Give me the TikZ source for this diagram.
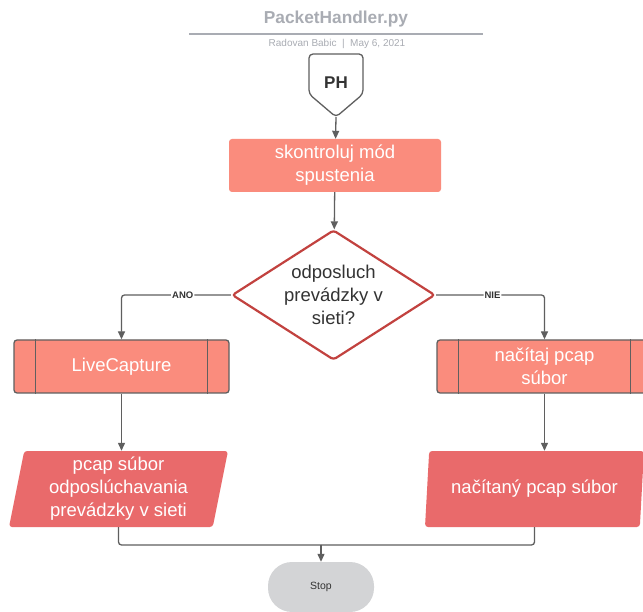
\documentclass[tikz,border=0pt]{standalone}
\usepackage{fontspec}
\setmainfont{Liberation Sans}
\usetikzlibrary{arrows.meta,shapes.geometric,positioning,calc}
\definecolor{salmon}{HTML}{FA8C7D}
\definecolor{darksalmon}{HTML}{E96A6B}
\definecolor{decred}{HTML}{C2423F}
\definecolor{linegray}{HTML}{5F5F5F}
\definecolor{titlegray}{HTML}{A9ACB3}
\definecolor{stopgray}{HTML}{D3D4D6}
\definecolor{textdark}{HTML}{333333}
\tikzstyle{boxfont}=[font=\fontsize{18.5}{23}\selectfont, align=center]
\tikzstyle{process}=[rectangle, rounded corners=3pt, fill=salmon, text=white, boxfont, minimum width=212pt, minimum height=53pt, inner sep=0pt]
\tikzstyle{subproc}=[process, draw=linegray, line width=1.3pt, minimum width=215pt]
\tikzstyle{decision}=[diamond, draw=decred, line width=2.2pt, fill=white, minimum width=203pt, minimum height=130pt, inner sep=0pt, rounded corners=3pt]
\tikzstyle{io}=[trapezium, trapezium left angle=76.5, trapezium right angle=103.5, trapezium stretches body, rounded corners=3pt, fill=darksalmon, text=white, boxfont, minimum width=219pt, minimum height=76pt, inner sep=0pt]
\tikzstyle{terminal}=[rectangle, rounded corners=24pt, fill=stopgray, text=textdark, font=\fontsize{10.5}{12}\selectfont, minimum width=106pt, minimum height=50pt]
\tikzstyle{line}=[draw, line width=1.3pt, linegray, rounded corners=3pt]
\tikzstyle{edge}=[line, -{Triangle[length=8pt,width=7pt]}]
\tikzstyle{answer}=[fill=white, text=textdark, font=\bfseries\fontsize{9.5}{11}\selectfont, inner sep=1pt]

\begin{document}
\begin{tikzpicture}[x=1pt, y=-1pt]
    \clip (0,0) rectangle (643,612);
    \fill[white] (0,0) rectangle (643,612);

    % Header
    \node[text=titlegray, font=\bfseries\fontsize{17.3}{20}\selectfont] (title) at (336,19) {PacketHandler.py};
    \coordinate (ruleL) at (189,34);
    \coordinate (ruleR) at (483,34);
    \draw[titlegray, line width=1.2pt] (ruleL) -- (ruleR);
    \node[text=titlegray, font=\fontsize{10}{12}\selectfont] (author) at (337,44) {Radovan Babic \ |\ \ May 6, 2021};

    % Off-page connector
    \draw[line, fill=white, rounded corners=4pt] (309,54) -- (363,54) -- (363,94) -- (336,117) -- (309,94) -- cycle;
    \coordinate (PHtip) at (336,117);
    \node[text=textdark, font=\bfseries\fontsize{17}{20}\selectfont] (PH) at (336,83) {PH};

    % Then the blocks
    \node[process] (check) at (335,165.5) {skontroluj mód\\spustenia};
    \node[decision, label={[boxfont, text=textdark]center:{odposluch\\prevádzky v\\sieti?}}] (query) at (333.5,295) {};
    \foreach \pos/\name/\txt in {{(121.5,366.5)/live/LiveCapture},{(544.5,366.5)/load/{načítaj pcap\\súbor}}}
        \node[subproc] (\name) at \pos {\txt};
    \foreach \name in {live, load} {
        \draw[linegray, line width=1.3pt] ([xshift=22pt]\name.north west) -- ([xshift=22pt]\name.south west);
        \draw[linegray, line width=1.3pt] ([xshift=-22pt]\name.north east) -- ([xshift=-22pt]\name.south east);
    }
    \node[io] (pcapL) at (118.5,489) {pcap súbor\\odposlúchavania\\prevádzky v sieti};
    \node[io] (pcapR) at (534.5,489) {načítaný pcap súbor};
    \node[terminal] (stop) at (321,587) {Stop};
    \coordinate (merge) at (321,545);

    % Connect blocks
    \path[edge] (PHtip) -- (check);
    \path[edge] (check) -- (query);
    \path[edge] (query.west) -| node[answer, pos=0.22] {ANO} (live.north);
    \path[edge] (query.east) -| node[answer, pos=0.26] {NIE} (load.north);
    \path[edge] (live) -- (live |- pcapL.north);
    \path[edge] (load) -- (load |- pcapR.north);
    \path[line] (pcapL.center |- pcapL.south) |- (merge);
    \path[line] (pcapR.center |- pcapR.south) |- (merge);
    \path[edge] (merge) -- (stop);
\end{tikzpicture}
\end{document}
